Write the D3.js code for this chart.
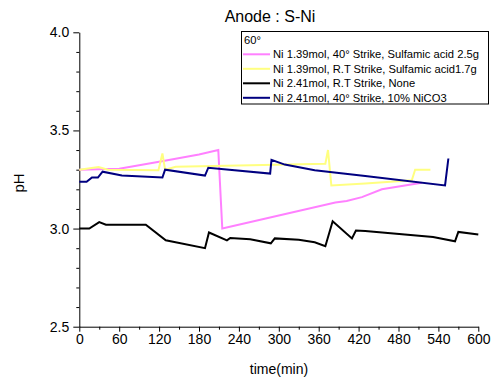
<!DOCTYPE html>
<html>
<head>
<meta charset="utf-8">
<script src="https://cdn.jsdelivr.net/npm/d3@7/dist/d3.min.js"></script>
<style>
  body { margin: 0; background: #fff; }
  svg { display: block; font-family: Arial, "Liberation Sans", sans-serif; }
</style>
</head>
<body>
<svg id="chart"></svg>
<script>
const legendHeader = "60\u00b0";
const seriesNames = [
  "Ni 1.39mol, 40\u00b0 Strike, Sulfamic acid 2.5g",
  "Ni 1.39mol, R.T Strike, Sulfamic acid1.7g",
  "Ni 2.41mol, R.T Strike, None",
  "Ni 2.41mol, 40\u00b0 Strike, 10% NiCO3"
];
const seriesColors = ["#ff80ff", "#ffff80", "#000000", "#000080"];

// [time(min), pH]
const pinkData = [[0,3.30],[60,3.305],[120,3.34],[180,3.377],[209,3.40],[215,3.00],[385,3.133],[402,3.14],[425,3.16],[455,3.20],[515,3.233]];
const yellowData = [[0,3.30],[29,3.314],[43,3.30],[119,3.297],[125,3.383],[129,3.30],[145,3.315],[370,3.33],[374,3.40],[379,3.22],[430,3.23],[500,3.246],[505,3.30],[528,3.30]];
const blackData = [[0,3.00],[15,3.00],[30,3.033],[40,3.02],[100,3.02],[130,2.94],[189,2.90],[195,2.98],[222,2.94],[227,2.952],[257,2.945],[288,2.925],[294,2.95],[330,2.943],[354,2.93],[370,2.91],[381,3.037],[410,2.95],[416,2.99],[430,2.988],[532,2.957],[565,2.935],[570,2.983],[600,2.97]];
const navyData = [[0,3.238],[11,3.238],[19,3.26],[28,3.26],[35,3.29],[64,3.27],[125,3.26],[129,3.30],[189,3.27],[194,3.31],[287,3.28],[289,3.35],[309,3.326],[354,3.297],[430,3.268],[550,3.22],[555,3.357]];

const xTicks = [0, 60, 120, 180, 240, 300, 360, 420, 480, 540, 600];
const yTicks = [2.5, 3.0, 3.5, 4.0];

const width = 492, height = 380;
const svg = d3.select("#chart").attr("width", width).attr("height", height);

const x = d3.scaleLinear().domain([0, 600]).range([79.3, 478.3]);
const y = d3.scaleLinear().domain([2.5, 4.0]).range([326.7, 32.3]);

// minor ticks
svg.append("g")
  .attr("transform", `translate(0,${y(2.5)})`)
  .call(d3.axisBottom(x).tickValues(d3.range(30, 600, 60)).tickSize(3).tickFormat(""))
  .call(g => g.select(".domain").remove());
svg.append("g")
  .attr("transform", `translate(${x(0)},0)`)
  .call(d3.axisLeft(y).tickValues(d3.range(2.6, 4.0, 0.1).filter(v => Math.abs(v * 2 - Math.round(v * 2)) > 0.01)).tickSize(3).tickFormat(""))
  .call(g => g.select(".domain").remove());

const xAxis = svg.append("g")
  .attr("transform", `translate(0,${y(2.5)})`)
  .call(d3.axisBottom(x).tickValues(xTicks).tickSize(5).tickPadding(2).tickSizeOuter(0));
const yAxis = svg.append("g")
  .attr("transform", `translate(${x(0)},0)`)
  .call(d3.axisLeft(y).tickValues(yTicks).tickSize(6).tickPadding(4).tickSizeOuter(0).tickFormat(d3.format(".1f")));

[xAxis, yAxis].forEach(a => {
  a.selectAll("text").attr("font-size", 14).attr("font-family", "Arial, 'Liberation Sans', sans-serif").attr("fill", "#000");
  a.selectAll("line, path").attr("stroke", "#000");
});
svg.selectAll(".tick line").attr("stroke", "#000");

// lines
const line = d3.line().x(d => x(d[0])).y(d => y(d[1]));
const allSeries = [pinkData, yellowData, blackData, navyData];
allSeries.forEach((data, i) => {
  svg.append("path")
    .datum(data)
    .attr("fill", "none")
    .attr("stroke", seriesColors[i])
    .attr("stroke-width", 2)
    .attr("stroke-linejoin", "miter")
    .attr("d", line);
});

// titles
svg.append("text")
  .attr("x", 270).attr("y", 21.5)
  .attr("text-anchor", "middle")
  .attr("font-size", 16)
  .text("Anode : S-Ni");
svg.append("text")
  .attr("x", 279).attr("y", 373.5)
  .attr("text-anchor", "middle")
  .attr("font-size", 14)
  .text("time(min)");
svg.append("text")
  .attr("transform", "translate(24,183) rotate(-90)")
  .attr("text-anchor", "middle")
  .attr("font-size", 15)
  .text("pH");

// legend
const legend = svg.append("g");
legend.append("rect")
  .attr("x", 241.5).attr("y", 31.5)
  .attr("width", 247).attr("height", 72.5)
  .attr("fill", "#fff").attr("stroke", "#000").attr("stroke-width", 1);
legend.append("text")
  .attr("x", 244).attr("y", 43.5)
  .attr("font-size", 11.2)
  .text(legendHeader);
seriesNames.forEach((name, i) => {
  const ly = 54.3 + i * 14.5;
  legend.append("line")
    .attr("x1", 243).attr("x2", 270)
    .attr("y1", ly).attr("y2", ly)
    .attr("stroke", seriesColors[i]).attr("stroke-width", 2);
  legend.append("text")
    .attr("x", 273).attr("y", ly + 4)
    .attr("font-size", 11.2)
    .text(name);
});
</script>
</body>
</html>
